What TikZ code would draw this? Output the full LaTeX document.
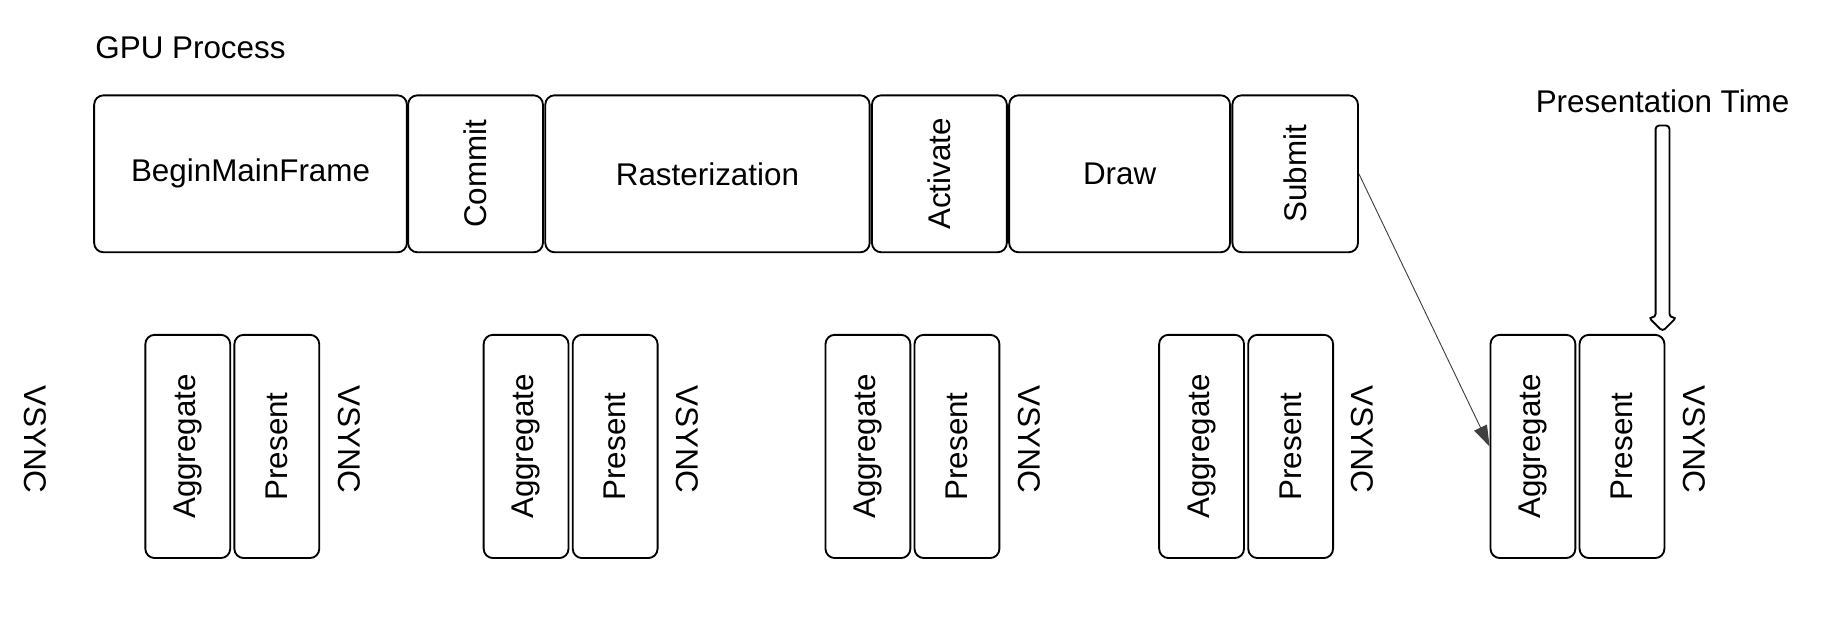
\documentclass[tikz,border=0pt]{standalone}
\usepackage{fontspec}
\setmainfont{Liberation Sans}
\usetikzlibrary{arrows.meta, positioning, calc}

\begin{document}
\begin{tikzpicture}[x=0.5pt,y=-0.5pt,>={Triangle[length=9pt,width=6pt]},
  font=\fontsize{13.5}{16}\selectfont,
  stage/.style={draw,thick,rounded corners=4pt,minimum height=67.5pt,inner sep=0pt},
  slot/.style={draw,thick,rounded corners=4pt,minimum width=36.5pt,minimum height=96pt,inner sep=0pt}]
  \useasboundingbox (0,0) rectangle (1568,533);
  \node[anchor=west] (gpu) at (75,41) {GPU Process};
  % top row of stages
  \node[stage,minimum width=134.5pt] (bmf) at (215.5,149.5) {BeginMainFrame};
  \node[stage,minimum width=58pt] (commit) at (409,149.5) {\rotatebox{90}{Commit}};
  \node[stage,minimum width=139.5pt] (raster) at (608.5,149.5) {Rasterization};
  \node[stage,minimum width=58pt] (activate) at (808,149.5) {\rotatebox{90}{Activate}};
  \node[stage,minimum width=95pt] (draw) at (963,149.5) {Draw};
  \node[stage,minimum width=54pt] (submit) at (1114,149.5) {\rotatebox{90}{Submit}};
  % frames
  \node (vs0) at (30,378) {\rotatebox{-90}{VSYNC}};
  \foreach \i/\x in {1/161.5,2/452.5,3/746.5,4/1033.5,5/1318.5} {
    \node[slot] (agg\i) at (\x,384) {\rotatebox{90}{Aggregate}};
    \node[slot,right=1pt of agg\i] (pres\i) {\rotatebox{90}{Present}};
    \node[right=4pt of pres\i,yshift=3pt] (vs\i) {\rotatebox{-90}{VSYNC}};
  }
  \node (ptime) at (1430,87) {Presentation Time};
  \draw[->,thin,black!75] (submit.east) -- (agg5.west);
  % hollow arrow
  \coordinate (pt) at (1430,108);
  \coordinate (pe) at (1430,285);
  \draw[thick,rounded corners=1.5pt] ($(pt)+(-6,0)$) -- ($(pe)+(-6,-12)$) -- ($(pe)+(-12,-12)$)
    -- (pe) -- ($(pe)+(12,-12)$) -- ($(pe)+(6,-12)$) -- ($(pt)+(6,0)$) -- cycle;
\end{tikzpicture}
\end{document}
